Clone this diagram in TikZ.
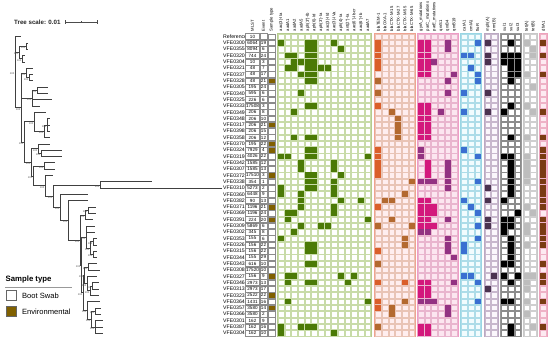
\documentclass[tikz,border=0pt]{standalone}
\usepackage{fontspec}
\setmainfont{Liberation Sans}
\definecolor{gbg}{HTML}{EEF4E2}\definecolor{gbd}{HTML}{B5CB8E}\definecolor{gcb}{HTML}{C8DBA8}\definecolor{gfl}{HTML}{4B7A06}\definecolor{gin}{HTML}{FFFFFF}
\definecolor{rbg}{HTML}{FBD3CA}\definecolor{rbd}{HTML}{F0A290}\definecolor{rcb}{HTML}{E9C4B6}\definecolor{rfa}{HTML}{DA5F2A}\definecolor{rfb}{HTML}{B3692F}\definecolor{rin}{HTML}{FFEEEF}
\definecolor{mbg}{HTML}{F9CDE2}\definecolor{mbd}{HTML}{EE9CC6}\definecolor{mcb}{HTML}{E9B5CE}\definecolor{mfa}{HTML}{D3187C}\definecolor{mfb}{HTML}{923282}\definecolor{min}{HTML}{FCE6F0}
\definecolor{bbg}{HTML}{DDF4F8}\definecolor{bbd}{HTML}{98D6E4}\definecolor{bcb}{HTML}{ADDCE8}\definecolor{bfl}{HTML}{3A6FD1}\definecolor{bin}{HTML}{F2FCFE}
\definecolor{pbg}{HTML}{EEE6F0}\definecolor{pbd}{HTML}{BBA8C2}\definecolor{pcb}{HTML}{C8B8CD}\definecolor{pfl}{HTML}{4B3350}\definecolor{pin}{HTML}{FBF7FC}
\definecolor{kbg}{HTML}{F4F4F4}\definecolor{kbd}{HTML}{999999}\definecolor{kcb}{HTML}{8C8C8C}\definecolor{kfl}{HTML}{000000}\definecolor{kin}{HTML}{FFFFFF}
\definecolor{sbg}{HTML}{F6F6F6}\definecolor{sbd}{HTML}{C8C8C8}\definecolor{scb}{HTML}{CFCFCF}\definecolor{sfl}{HTML}{BDBDBD}\definecolor{sin}{HTML}{FFFFFF}
\definecolor{wbg}{HTML}{FAD2E0}\definecolor{wbd}{HTML}{EEA2BC}\definecolor{wcb}{HTML}{EEB2C6}\definecolor{wfl}{HTML}{7A3C12}\definecolor{win}{HTML}{FDEAF1}
\definecolor{envc}{HTML}{806000}
\newcommand\hmgroup[6]{%
  \pgfmathsetmacro\hxa{#1-3.7}\pgfmathsetmacro\hxb{#1+6.67*(#2-1)+3.7}%
  \draw[draw=#4, fill=#3, line width=0.5bp] (\hxa,33) rectangle (\hxb,336.6);
  \pgfmathtruncatemacro\hnn{#2-1}%
  \foreach \c in {0,...,\hnn} \foreach \r in {0,...,47}
    \draw[draw=#5, fill=#6, line width=0.4bp] ({#1+6.67*\c-2.8},{36.5+6.31*\r-2.7}) rectangle ({#1+6.67*\c+2.8},{36.5+6.31*\r+2.7});
}
\newcommand\hmfill[3]{%
  \foreach \r/\c in {#3}
    \fill[#2] ({#1+6.67*\c-2.95},{36.5+6.31*\r-2.85}) rectangle ({#1+6.67*\c+2.95},{36.5+6.31*\r+2.85});
}
\tikzset{
  tree/.style={draw=black!75, line width=0.45bp},
  bs/.style={font=\fontsize{2.6}{3}\selectfont, text=black!70, inner sep=0.2bp, anchor=north east},
  rowlab/.style={font=\fontsize{5.2}{6}\selectfont, anchor=west, inner sep=0},
  numlab/.style={font=\fontsize{4.6}{5}\selectfont, inner sep=0},
  hdr/.style={font=\fontsize{4.2}{5}\selectfont, rotate=90, anchor=west, inner sep=0},
  metabox/.style={draw=black!45, line width=0.35bp, fill=white},
}
\begin{document}
\begin{tikzpicture}[x=1bp,y=-1bp]
\useasboundingbox (0,0) rectangle (550,339);
\fill[white] (0,0) rectangle (550,339);

% ---------- tree scale ----------
\node[font=\bfseries\fontsize{6.2}{7}\selectfont, anchor=west, inner sep=0, text=black!85] (scale) at (14,22) {Tree scale: 0.01};
\coordinate (sa) at (65,22); \coordinate (sb) at (97,22); \coordinate (sm) at (81,22);
\draw[black!70, line width=0.5bp] (sa) -- (sb);
\draw[black!70, line width=0.5bp] ([yshift=2bp]sa) -- ([yshift=-2bp]sa) ([yshift=2bp]sb) -- ([yshift=-2bp]sb) ([yshift=1bp]sm) -- ([yshift=-1bp]sm);

% ---------- tree ----------
\foreach \tx [count=\r from 0] in {21,28,28,25,25,33,33,33,48,48,52,40,46,50,50,50,50,50,62,62,55,55,53,152,222,88,88,96,96,93,95,95,97,97,97,97,97,100,97,99,99,99,100,101,101,103,103,103}
  \coordinate (t\r) at (\tx,{36.5+6.31*\r});
\coordinate (nA1) at (26,45.97);
\coordinate (nA2) at (22,58.59);
\coordinate (nA) at (19,52.28);
\coordinate (nB2) at (29,77.52);
\coordinate (nB) at (26,72.78);
\coordinate (nC1) at (37,90.14);
\coordinate (nC) at (32,98.02);
\coordinate (nD1) at (47,124.84);
\coordinate (nD2) at (44,131.15);
\coordinate (nD) at (34,121.69);
\coordinate (nE1) at (41,153.24);
\coordinate (nE) at (38,148.5);
\coordinate (nF) at (44,165.86);
\coordinate (nG) at (100,184.79);
\coordinate (nH1) at (88,210.03);
\coordinate (nH) at (85,214.76);
\coordinate (nI2) at (93,241.58);
\coordinate (nI3) at (93,254.2);
\coordinate (nI1) at (90,247.89);
\coordinate (nI) at (86,236.85);
\coordinate (nJ1) at (88,266.82);
\coordinate (nJ2) at (92,285.75);
\coordinate (nJ3) at (90,290.48);
\coordinate (nJ4) at (87,283.38);
\coordinate (nJ) at (84,275.1);
\coordinate (nK1) at (95,310.99);
\coordinate (nK2) at (95,326.76);
\coordinate (nK3) at (91,318.88);
\coordinate (nK) at (87,310.2);
\coordinate (NJK) at (83,292.65);
\coordinate (NIJK) at (81,264.75);
\coordinate (NH) at (80,239.76);
\coordinate (N8) at (68,220.16);
\coordinate (N7) at (60,207.2);
\coordinate (N6) at (53,196.0);
\coordinate (N5) at (45,185.66);
\coordinate (N4) at (33,175.76);
\coordinate (N3) at (31,162.13);
\coordinate (N2) at (24,141.91);
\coordinate (N1) at (21,107.35);
\coordinate (N0) at (15,71.9);
\foreach \p/\c in {N0/t0,N0/nA,N0/N1,nA/nA1,nA/nA2,nA1/t1,nA1/t2,nA2/t3,nA2/t4,
  N1/nB,N1/nC,N1/N2,nB/t5,nB/nB2,nB2/t6,nB2/t7,nC/nC1,nC/t10,nC/t11,nC1/t8,nC1/t9,
  N2/nD,N2/N3,nD/t12,nD/nD2,nD2/nD1,nD2/t16,nD1/t13,nD1/t14,nD1/t15,
  N3/nE,N3/N4,nE/t17,nE/nE1,nE1/t18,nE1/t19,N4/nF,N4/N5,nF/t20,nF/t21,
  N5/t22,N5/N6,N6/nG,N6/N7,nG/t23,nG/t24,N7/t25,N7/N8,N8/t26,N8/NH,
  NH/nH,NH/NIJK,nH/nH1,nH/t29,nH1/t27,nH1/t28,NIJK/nI,NIJK/NJK,
  nI/t30,nI/t31,nI/nI1,nI1/nI2,nI1/nI3,nI2/t32,nI2/t33,nI3/t34,nI3/t35,
  NJK/nJ,NJK/nK,nJ/nJ1,nJ/nJ4,nJ1/t36,nJ1/t37,nJ4/t38,nJ4/nJ3,nJ3/nJ2,nJ3/t41,nJ2/t39,nJ2/t40,
  nK/t42,nK/nK3,nK3/nK1,nK3/nK2,nK1/t43,nK1/t44,nK2/t45,nK2/t46,nK2/t47}
  \draw[tree] (\p) |- (\c);
\foreach \n in {N0,nA,nA1,nA2,N1,nB,nB2,nC,nC1,N2,nD,nD1,nD2,N3,nE,nE1,N4,nF,N5,N6,nG,N7,N8,NH,nH,nH1,NIJK,nI,nI1,nI2,nI3,NJK,nJ,nJ1,nJ2,nJ3,nJ4,nK,nK1,nK2,nK3}
  \node[bs] (bs-\n) at ([xshift=-0.4bp,yshift=-0.5bp]\n) {100};

% ---------- row labels and metadata ----------
\node[hdr] (hMLST) at (252.5,31.5) {MLST};
\node[hdr] (hEv) at (263.5,31.5) {Event};
\node[hdr] (hST) at (271.6,31.5) {Sample type};
\foreach \lab/\m/\e [count=\r from 0] in {Reference/10/{},VFE0300/6064/19,VFE0355/8094/6,VFE0320/744/24,VFE0304/10/3,VFE0321/48/7,VFE0337/48/17,VFE0328/48/21,VFE0305/195/24,VFE0340/595/6,VFE0325/226/6,VFE0333/17508/3,VFE0349/206/8,VFE0348/206/10,VFE0317/206/21,VFE0398/206/15,VFE0358/206/12,VFE0370/195/22,VFE0324/7929/4,VFE0319/4026/22,VFE0342/1585/12,VFE0307/1585/13,VFE0372/17510/3,VFE0338/354/1,VFE0310/5273/2,VFE0360/6448/9,VFE0382/90/13,VFE0371/1196/21,VFE0369/1196/24,VFE0391/224/20,VFE0309/5869/6,VFE0302/345/8,VFE0353/155/6,VFE0326/156/22,VFE0315/156/22,VFE0344/155/29,VFE0343/616/10,VFE0308/17520/10,VFE0327/156/9,VFE0346/2973/13,VFE0313/2973/17,VFE0323/2522/22,VFE0364/1431/16,VFE0357/3580/14,VFE0366/3580/2,VFE0301/162/9,VFE0387/162/16,VFE0304/162/10}
{
  \node[rowlab] (lab\r) at (223,{36.5+6.31*\r}) {\lab};
  \draw[metabox] (245.5,{36.5+6.31*\r-3}) rectangle (259.5,{36.5+6.31*\r+3});
  \node[numlab] (mlst\r) at (252.5,{36.5+6.31*\r}) {\m};
  \draw[metabox] (260,{36.5+6.31*\r-3}) rectangle (267,{36.5+6.31*\r+3});
  \node[numlab] (ev\r) at (263.5,{36.5+6.31*\r}) {\e};
  \draw[metabox] (268.3,{36.5+6.31*\r-2.8}) rectangle (275,{36.5+6.31*\r+2.8});
}
\foreach \r in {7,14,17,18,22,27,29,38,41,43}
  \draw[draw=black!45, fill=envc, line width=0.35bp] (268.3,{36.5+6.31*\r-2.8}) rectangle (275,{36.5+6.31*\r+2.8});

% ---------- heatmap groups ----------
\hmgroup{281}{14}{gbg}{gbd}{gcb}{gin}
\hmgroup{378.3}{6}{rbg}{rbd}{rcb}{rin}
\hmgroup{421}{6}{mbg}{mbd}{mcb}{min}
\hmgroup{464.3}{3}{bbg}{bbd}{bcb}{bin}
\hmgroup{487.7}{2}{pbg}{pbd}{pcb}{pin}
\hmgroup{504.3}{3}{kbg}{kbd}{kcb}{kin}
\hmgroup{526.7}{2}{sbg}{sbd}{scb}{sin}
\hmgroup{543.3}{1}{wbg}{wbd}{wcb}{win}

\hmfill{281}{gfl}{1/0,1/4,1/5,1/8,2/4,2/5,2/9,3/1,3/2,3/4,3/5,4/2,4/3,4/4,4/5,5/1,5/2,5/4,5/5,5/6,5/7,6/3,6/4,6/5,7/4,7/5,9/3,11/4,11/5,12/2,16/2,16/4,16/5,18/4,18/5,19/0,19/1,19/4,19/5,19/13,20/3,20/8,21/3,21/8,22/4,22/5,22/9,23/4,23/5,23/8,24/0,24/4,24/5,24/8,25/0,25/3,25/8,26/3,26/9,26/12,27/3,27/8,28/1,28/2,28/8,29/1,29/13,30/3,30/6,30/7,31/2,32/0,33/4,33/5,34/4,34/5,36/4,36/5,38/1,38/2,38/9,38/11,39/1,39/4,39/5,39/10,42/1,42/13,46/0,46/3,46/4,46/5,47/0,47/8}
\hmfill{378.3}{rfa}{1/0,2/0,3/0,4/0,5/0,11/0,18/0,19/0,20/0,21/0,22/0,27/0,34/0,39/0,39/4,42/0,43/0}
\hmfill{378.3}{rfb}{7/0,9/0,12/2,13/3,14/3,15/3,16/3,23/5,25/4,26/1,26/2,29/2,30/0,30/5,32/4,33/4,36/0,42/4,43/2,44/2,46/0}
\hmfill{421}{mfa}{1/0,1/1,2/0,2/1,3/0,3/1,4/0,4/1,5/0,5/1,6/0,6/1,11/0,11/1,12/0,12/1,13/0,13/1,14/0,14/1,15/0,15/1,16/0,16/1,20/1,21/1,22/1,26/0,26/1,27/0,27/1,27/2,28/0,28/1,28/2,29/0,29/1,30/0,30/1,30/2,39/0,39/1,40/0,40/1,41/0,41/1,46/0,46/1,47/0,47/1}
\hmfill{421}{mfb}{1/4,2/4,4/2,6/5,7/4,9/4,12/3,18/0,19/0,20/4,21/4,22/4,23/0,23/1,23/2,23/4,24/4,29/4,31/0,31/1,32/4,33/4,34/4,35/5,39/5,42/0,42/1,42/2,43/4,44/4}
\hmfill{464.3}{bfl}{1/2,3/0,3/1,5/1,6/2,7/2,9/0,12/0,18/0,19/2,23/2,26/0,27/1,28/2,30/2,32/2,33/0,34/0,38/0,38/1,39/2,42/2}
\hmfill{487.7}{pfl}{1/0,3/0,4/0,9/0,12/0,24/0,26/0,29/0,30/0,38/1,40/0}
\hmfill{504.3}{kfl}{1/1,3/0,3/1,3/2,4/0,4/1,4/2,5/1,5/2,6/1,6/2,7/1,11/1,12/0,16/1,19/0,19/1,20/1,21/1,22/1,23/1,24/1,25/1,26/0,28/2,29/0,29/1,30/0,30/1,31/0,32/1,33/1,34/1,35/1,36/0,36/1,38/0,38/2,39/1,42/0,42/1,46/1,47/1}
\hmfill{526.7}{sfl}{1/0,2/1,3/1,6/0,8/1,11/0,12/1,16/0,19/0,20/0,21/0,22/0,23/0,27/0,28/1,30/0,31/0,33/0,38/0,38/1,39/0,40/0,42/0,44/0,46/1}
\hmfill{543.3}{wfl}{1/0,3/0,6/0,12/0,16/0,18/0,19/0,20/0,21/0,22/0,23/0,24/0,25/0,26/0,27/0,29/0,30/0,31/0,32/0,33/0,36/0,38/0,39/0,42/0,46/0}

% ---------- column headers ----------
\foreach \lab [count=\c from 0] in {aac(3)-IIa,aadA1,aadA2,aadA5,aph(3'')-Ib,aph(6)-Id,aph(3')-Ia,aac(3)-IId,aac(3)-IVa,aph(4)-Ia,ant(2'')-Ia,aac(6')-Ib-cr,aac(6')-Ib,aadA7}
  \node[hdr] (hg\c) at ({281+6.67*\c},31.5) {\lab};
\foreach \lab [count=\c from 0] in {blaTEM-1,blaOXA-1,blaCTX-M-15,blaCTX-M-27,blaCTX-M-55,blaCTX-M-65}
  \node[hdr] (hr\c) at ({378.3+6.67*\c},31.5) {\lab};
\foreach \lab [count=\c from 0] in {gyrA\_mutations,parC\_mutations,parE\_mutations,qnrS1,qnrB4,qnrB19}
  \node[hdr] (hm\c) at ({421+6.67*\c},31.5) {\lab};
\foreach \lab [count=\c from 0] in {catA1,cmlA1,floR}
  \node[hdr] (hb\c) at ({464.3+6.67*\c},31.5) {\lab};
\foreach \lab [count=\c from 0] in {mph(A),erm(B)}
  \node[hdr] (hp\c) at ({487.7+6.67*\c},31.5) {\lab};
\foreach \lab [count=\c from 0] in {sul1,sul2,sul3}
  \node[hdr] (hk\c) at ({504.3+6.67*\c},31.5) {\lab};
\foreach \lab [count=\c from 0] in {tet(A),tet(B)}
  \node[hdr] (hs\c) at ({526.7+6.67*\c},31.5) {\lab};
\node[hdr] (hw0) at (543.3,31.5) {dfrA1};

% ---------- legend ----------
\node[font=\bfseries\fontsize{7.8}{9}\selectfont, anchor=west, inner sep=0] (legt) at (5.5,279.5) {Sample type};
\draw[black!40, line width=0.6bp] (5,287.3) -- (72,287.3);
\draw[black!60, fill=white, line width=0.5bp] (6,290) rectangle (16,300.5);
\node[font=\fontsize{7.6}{9}\selectfont, anchor=west, inner sep=0] (legb) at (22,295.3) {Boot Swab};
\draw[black!60, fill=envc, line width=0.5bp] (6,306) rectangle (16,316.5);
\node[font=\fontsize{7.6}{9}\selectfont, anchor=west, inner sep=0] (lege) at (22,311.3) {Environmental};
\end{tikzpicture}
\end{document}
